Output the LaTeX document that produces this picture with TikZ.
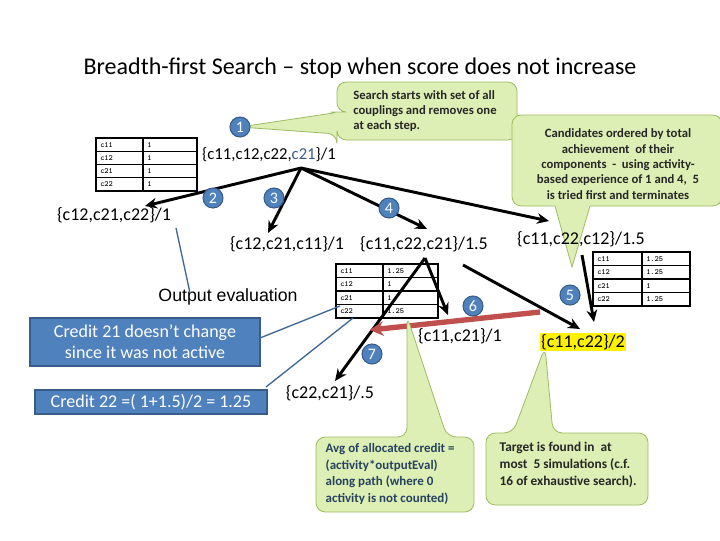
\documentclass[tikz,border=0pt]{standalone}
\usepackage{fontspec}
\setmainfont{Carlito}
\newfontfamily\arialf{Liberation Sans}
\usetikzlibrary{arrows.meta}
\definecolor{cgreen}{HTML}{DDEFB4}
\definecolor{cgreenline}{HTML}{9DBB61}
\definecolor{cblue}{HTML}{4F81BD}
\definecolor{cbluedark}{HTML}{385D8A}
\definecolor{cred}{HTML}{C0504D}
\begin{document}
\begin{tikzpicture}[x=0.75pt,y=-0.75pt,
  num/.style={circle,fill=cblue,draw=cbluedark,line width=0.8pt,minimum size=15pt,inner sep=0pt,text=white,font=\fontsize{12}{12}\selectfont},
  lab/.style={font=\fontsize{13.5}{15}\selectfont,inner sep=1pt},
  arr/.style={line width=2.2pt,-{Stealth[length=9pt,width=8pt]}},
  call/.style={fill=cgreen,draw=cgreenline,line width=0.6pt,rounded corners=7pt},
  calltext/.style={font=\fontsize{9.5}{11.5}\selectfont\bfseries,text=black!85,align=left},
  bluebox/.style={fill=cblue,draw=cbluedark,line width=1.5pt,text=white,align=center,font=\fontsize{13.5}{16}\selectfont},
  bline/.style={cblue!80!black,line width=1pt},
  tt/.style={font=\fontsize{6}{6}\selectfont\ttfamily\bfseries,anchor=west,inner sep=0pt}]
\useasboundingbox (0,0) rectangle (720,540);
\fill[white] (0,0) rectangle (720,540);
\node[font=\fontsize{18}{20}\selectfont] (title) at (360,68) {Breadth-first Search -- stop when score does not increase};

% callout 1
\draw[call] (240,127) -- (340,112) -- (337,112) -- (337,82) -- (517,82) -- (517,140) -- (337,140) -- (337,134) -- cycle;
\node[calltext] (c1) at (425,111) {Search starts with set of all\\couplings and removes one\\at each step.};
% callout 2
\draw[call] (512,115) rectangle (722,206);
\fill[cgreen] (555,205) -- (572,267) -- (590,205) -- cycle;
\draw[cgreenline,line width=0.6pt] (555,206) -- (572,267) -- (590,206);
\node[calltext,align=center] (c2) at (618,164) {Candidates ordered by total\\achievement\ \ of their\\components\ \ -\ \ using activity-\\based experience of 1 and 4,\ \ 5\\is tried first and terminates};

% table helper
\newcommand{\mytab}[7]{%
  \draw[line width=1pt] (#1,#2) rectangle (#3,#4);
  \draw[line width=1pt] (#5,#2) -- (#5,#4);
  \foreach \k in {1,2,3} \draw[line width=1pt] (#1,{#2+\k*(#4-#2)/4}) -- (#3,{#2+\k*(#4-#2)/4});
  \foreach \n/\v [count=\i] in {#6} {
    \node[tt] at ({#1+4},{#2+(\i-0.5)*(#4-#2)/4}) {\n};
    \node[tt] at ({#5+4},{#2+(\i-0.5)*(#4-#2)/4}) {\v};}
}
\mytab{96}{138}{197}{191}{143}{c11/1,c12/1,c21/1,c22/1}{}
\mytab{336}{264}{438}{318}{383}{c11/1.25,c12/1,c21/1,c22/1.25}{}
\mytab{593}{252}{690}{306}{642}{c11/1.25,c12/1.25,c21/1,c22/1.25}{}

% labels
\node[lab,font=\fontsize{12.5}{14}\selectfont] (root) at (269,155) {\{c11,c12,c22,\textcolor{cbluedark}{c21}\}/1};
\coordinate (r) at (301,168);
\node[lab] (n2) at (114,215) {\{c12,c21,c22\}/1};
\node[lab] (n3) at (287,244) {\{c12,c21,c11\}/1};
\node[lab] (n4) at (424,244) {\{c11,c22,c21\}/1.5};
\node[lab] (n5) at (581,239) {\{c11,c22,c12\}/1.5};
\node[lab] (n6) at (460,336) {\{c11,c21\}/1};
\node[lab,fill=yellow] (n8) at (583,342) {\{c11,c22\}/2};
\node[lab] (n7) at (330,393) {\{c22,c21\}/.5};
\node[font=\fontsize{13.3}{15}\selectfont\arialf] (oe) at (228,297) {Output evaluation};

% arrows
\draw[arr] (r) -- (145,206);
\draw[arr] (r) -- (268,233);
\draw[arr] (r) -- (427,229);
\draw[arr] (r) -- (549,221);
\coordinate (n4t) at (425,258);
\draw[arr] (n4t) -- (448,315);
\draw[arr] (n4t) -- (335,381);
\draw[arr] (463,265) -- (580,329);
\draw[arr] (582,255) -- (594,322);
\draw[cred,line width=4pt,-{Stealth[length=10pt,width=11pt]}] (540,312) -- (370,330);

% numbers
\node[num] (k1) at (240,127) {1};
\node[num] (k2) at (213,198) {2};
\node[num] (k3) at (274,198) {3};
\node[num] (k4) at (389,208) {4};
\node[num] (k5) at (570,295) {5};
\node[num] (k6) at (473,306) {6};
\node[num] (k7) at (372,354) {7};

% blue boxes
\node[bluebox,minimum width=230pt*0.75,minimum height=48pt*0.75] (b1) at (145,342) {Credit 21 doesn't change\\since it was not active};
\node[bluebox,minimum width=232pt*0.75,minimum height=24pt*0.75] (b2) at (151,402) {Credit 22 =( 1+1.5)/2 = 1.25};
\draw[bline] (176,228) -- (190,293);
\draw[bline] (260,338) -- (340,306);
\draw[bline] (266,387) -- (353,318);

% green callouts bottom
\draw[call] (407,316) -- (447,437) -- (474,437) -- (474,512) -- (316,512) -- (316,437) -- (407,437) -- cycle;
\node[calltext,font=\fontsize{9.7}{12.7}\selectfont\bfseries,text=cbluedark!70!black,anchor=west] (c3) at (321,474) {Avg of allocated credit =\\(activity*outputEval)\\along path (where 0\\activity is not counted)};
\draw[call] (545,347) -- (553,433) -- (648,433) -- (648,505) -- (486,505) -- (486,433) -- (513,433) -- cycle;
\node[calltext,font=\fontsize{10}{12.7}\selectfont\bfseries,anchor=west] (c4) at (495,465) {Target is found in\ \ at\\most\ \ 5 simulations (c.f.\\16 of exhaustive search).};
\end{tikzpicture}
\end{document}
